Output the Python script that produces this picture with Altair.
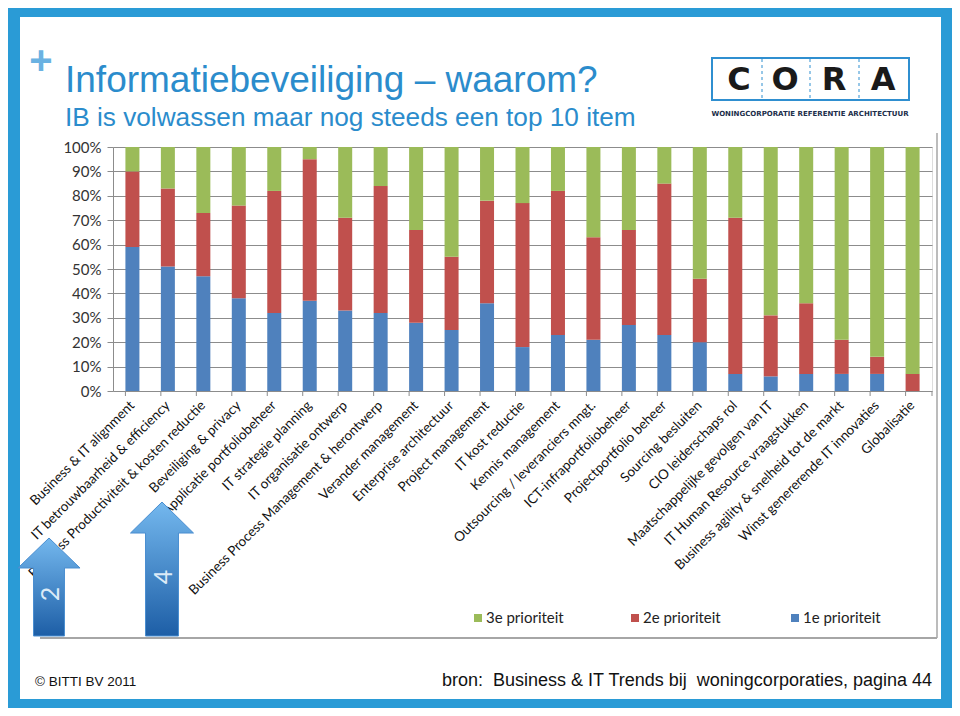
import altair as alt
import pandas as pd

categories = [
    "Business & IT alignment",
    "IT betrouwbaarheid & efficiency",
    "Business Productiviteit & kosten reductie",
    "Beveiliging & privacy",
    "Applicatie portfoliobeheer",
    "IT strategie planning",
    "IT organisatie ontwerp",
    "Business Process Management & herontwerp",
    "Verander management",
    "Enterprise architectuur",
    "Project management",
    "IT kost reductie",
    "Kennis management",
    "Outsourcing / leveranciers mngt.",
    "ICT-infraportfoliobeheer",
    "Projectportfolio beheer",
    "Sourcing besluiten",
    "CIO leiderschaps rol",
    "Maatschappelijke gevolgen van IT",
    "IT Human Resource vraagstukken",
    "Business agility & snelheid tot de markt",
    "Winst genererende IT innovaties",
    "Globalisatie",
]
prio1 = [59, 51, 47, 38, 32, 37, 33, 32, 28, 25, 36, 18, 23, 21, 27, 23, 20, 7, 6, 7, 7, 7, 0]
prio2 = [31, 32, 26, 38, 50, 58, 38, 52, 38, 30, 42, 59, 59, 42, 39, 62, 26, 64, 25, 29, 14, 7, 7]
prio3 = [10, 17, 27, 24, 18, 5, 29, 16, 34, 45, 22, 23, 18, 37, 34, 15, 54, 29, 69, 64, 79, 86, 93]
series = ["1e prioriteit", "2e prioriteit", "3e prioriteit"]
colors = ["#4f81bd", "#c0504d", "#9bbb59"]
legend_order = ["3e prioriteit", "2e prioriteit", "1e prioriteit"]
y_ticks = [0, 0.1, 0.2, 0.3, 0.4, 0.5, 0.6, 0.7, 0.8, 0.9, 1.0]

# page layout (page pixels)
OX, OY = 113, 147
W, H = 819, 244
TOTAL_W, TOTAL_H = 944, 700


def px(x):
    return x - OX


def py(y):
    return y - OY


rows = []
for i, c in enumerate(categories):
    for k, vals in enumerate([prio1, prio2, prio3]):
        rows.append({"cat": c, "series": series[k], "value": vals[i], "rank": k})
df = pd.DataFrame(rows)
one = pd.DataFrame({"a": [0]})

LABEL_FONT = "Lato"


def rect(x1, y1, x2, y2, **kw):
    return alt.Chart(one).mark_rect(**kw).encode(
        x=alt.value(px(x1)), x2=alt.value(px(x2)), y=alt.value(py(y1)), y2=alt.value(py(y2))
    )


def rule(x1, y1, x2, y2, **kw):
    return alt.Chart(one).mark_rule(**kw).encode(
        x=alt.value(px(x1)), x2=alt.value(px(x2)), y=alt.value(py(y1)), y2=alt.value(py(y2))
    )


def txt(t, x, y, **kw):
    return alt.Chart(one).mark_text(text=t, **kw).encode(x=alt.value(px(x)), y=alt.value(py(y)))


bars = alt.Chart(df).mark_bar().encode(
    x=alt.X(
        "cat:N",
        sort=categories,
        scale=alt.Scale(paddingInner=0.605, paddingOuter=0.35),
        axis=alt.Axis(
            title=None, labelAngle=-45, labelAlign="right", labelBaseline="middle",
            labelFont=LABEL_FONT, labelFontSize=13.5, labelColor="#111", labelLimit=0,
            labelOverlap=False, labelPadding=12, ticks=False, domain=False, zindex=0,
        ),
    ),
    y=alt.Y(
        "value:Q",
        stack="normalize",
        scale=alt.Scale(domain=[0, 1], nice=False),
        axis=alt.Axis(
            title=None, values=y_ticks, format=".0%", labelFont=LABEL_FONT, labelFontSize=15,
            labelColor="#333", gridColor="#8c8c8c", gridWidth=1, gridOpacity=1,
            tickColor="#8c8c8c", tickSize=6, domainColor="#8c8c8c", labelPadding=6, zindex=0,
        ),
    ),
    color=alt.Color("series:N", scale=alt.Scale(domain=series, range=colors), legend=None),
    order=alt.Order("rank:Q"),
)

# tick marks between categories (Excel style)
ticks = alt.Chart(pd.DataFrame({"cat": categories})).mark_rule(color="#8c8c8c").encode(
    x=alt.X("cat:N", sort=categories, bandPosition=0),
    y=alt.value(H), y2=alt.value(H + 5),
)
last_tick = rule(OX + W, OY + H, OX + W, OY + H + 5, color="#8c8c8c")

BLUE = "#2a9bd6"
frame = [
    rect(8, 8, 952, 17, color=BLUE),
    rect(8, 699, 952, 708, color=BLUE),
    rect(8, 8, 20, 708, color=BLUE),
    rect(941, 8, 952, 708, color=BLUE),
]

box = [
    rule(937, 133, 937, 638, color="#a6a6a6", strokeWidth=1.5),
    rule(40, 638, 937, 638, color="#a6a6a6", strokeWidth=2),
]

TITLE_BLUE = "#2b8ccc"
titles = [
    txt("+", 41, 62, font="Liberation Sans", fontSize=40, fontWeight="bold", color="#6ab2e2",
        align="center", baseline="middle"),
    txt("Informatiebeveiliging – waarom?", 65, 92, font="Liberation Sans", fontSize=37,
        color=TITLE_BLUE, align="left", baseline="alphabetic"),
    txt("IB is volwassen maar nog steeds een top 10 item", 65, 126, font="Liberation Sans",
        fontSize=26.2, color=TITLE_BLUE, align="left", baseline="alphabetic"),
]

# CORA logo
logo = [
    rect(712, 58, 909, 100, fill="white", stroke="#2f8fd0", strokeWidth=2),
]
for xd in [762, 810, 859]:
    logo.append(rule(xd, 59, xd, 99, color="#2f8fd0", strokeWidth=1, strokeDash=[3, 3]))
for letter, xc in zip(["C", "O", "R", "A"], [739, 785, 834, 883]):
    logo.append(txt(letter, xc, 80, font="DejaVu Sans", fontSize=32, fontWeight="bold",
                    color="#1a1a1a", align="center", baseline="middle"))
logo.append(txt("WONINGCORPORATIE REFERENTIE ARCHITECTUUR", 810, 114, font="DejaVu Sans",
                fontSize=7, fontWeight="bold", color="#1c2e4a", align="center", baseline="middle"))

# legend
legend = []
for s, sx in zip(legend_order, [478, 635, 795]):
    col = colors[series.index(s)]
    legend.append(alt.Chart(one).mark_square(size=64, color=col, opacity=1).encode(
        x=alt.value(px(sx)), y=alt.value(py(618))))
    legend.append(txt(s, sx + 8, 618, font=LABEL_FONT, fontSize=15, color="#222",
                      align="left", baseline="middle"))

# arrows
grad = alt.Gradient(
    gradient="linear", x1=0, x2=0, y1=0, y2=1,
    stops=[alt.GradientStop(color="#74b8ee", offset=0), alt.GradientStop(color="#1d5ea6", offset=1)],
)
arrow1_path = "M0,-1 L0.633,-0.388 L0.316,-0.388 L0.316,1 L-0.316,1 L-0.316,-0.388 L-0.633,-0.388 Z"
arrow2_path = "M0,-1 L0.47,-0.537 L0.246,-0.537 L0.246,1 L-0.246,1 L-0.246,-0.537 L-0.47,-0.537 Z"
arrows = [
    alt.Chart(one).mark_point(shape=arrow1_path, size=98 * 98, filled=True, fill=grad,
                              stroke="#4a8ed0", strokeWidth=1, opacity=1, fillOpacity=1).encode(
        x=alt.value(px(49)), y=alt.value(py(587))),
    alt.Chart(one).mark_point(shape=arrow2_path, size=134 * 134, filled=True, fill=grad,
                              stroke="#4a8ed0", strokeWidth=1, opacity=1, fillOpacity=1).encode(
        x=alt.value(px(162)), y=alt.value(py(569))),
    txt("2", 51, 594, font=LABEL_FONT, fontSize=25, color="#dbeaf7", angle=270,
        align="center", baseline="middle"),
    txt("4", 164, 577, font=LABEL_FONT, fontSize=25, color="#dbeaf7", angle=270,
        align="center", baseline="middle"),
]

NB = "\u00a0"
footer = [
    txt("© BITTI BV 2011", 35, 686, font="Liberation Sans", fontSize=13.5, color="#111",
        align="left", baseline="alphabetic"),
    txt(f"bron:{NB}{NB}Business & IT Trends bij{NB}{NB}woningcorporaties, pagina 44", 932, 686,
        font="Liberation Sans", fontSize=18, color="#111", align="right", baseline="alphabetic"),
]

chart = alt.layer(
    bars, ticks, last_tick, *frame, *box, *titles, *logo, *legend, *arrows, *footer
).properties(
    width=W, height=H,
    padding={"left": OX - 8, "top": OY - 8, "right": TOTAL_W - (OX - 8) - W,
             "bottom": TOTAL_H - (OY - 8) - H},
    autosize=alt.AutoSizeParams(type="none"),
).configure_view(stroke=None).configure(background="white")

chart.save("out.html", embed_options={"renderer": "svg", "actions": False})
